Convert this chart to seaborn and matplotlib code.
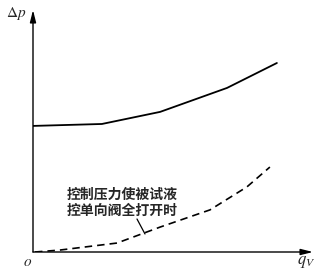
import matplotlib
matplotlib.use("Agg")
import matplotlib.pyplot as plt
import seaborn as sns
import pandas as pd

sns.set_theme(style="white")
plt.rcParams['font.family'] = ['Noto Sans CJK SC', 'DejaVu Sans']
plt.rcParams['mathtext.fontset'] = 'stix'

# data (arbitrary units)
solid_q = [0.0, 2.46, 4.54, 6.93, 8.71]
solid_p = [5.21, 5.29, 5.79, 6.78, 7.81]
dash_q = [0.07, 0.96, 3.0, 4.54, 6.32, 7.64, 8.46]
dash_p = [0.0, 0.08, 0.37, 1.03, 1.74, 2.69, 3.51]
annot_text = "控制压力使被试液\n控单向阀全打开时"

W, H = 321, 274
fig = plt.figure(figsize=(W / 100, H / 100), dpi=100)
ax = fig.add_axes([33 / W, 22 / H, 280 / W, 242 / H])
ax.set_xlim(0, 10)
ax.set_ylim(0, 10)

df1 = pd.DataFrame({"q": solid_q, "p": solid_p})
df2 = pd.DataFrame({"q": dash_q, "p": dash_p})
sns.lineplot(data=df1, x="q", y="p", ax=ax, color="black", lw=1.3, sort=False)
sns.lineplot(data=df2, x="q", y="p", ax=ax, color="black", lw=1.2, sort=False,
             linestyle=(0, (4.5, 3)))

for s in ax.spines.values():
    s.set_visible(False)
ax.set_xticks([])
ax.set_yticks([])
ax.set_xlabel("")
ax.set_ylabel("")

# axes arrows
ax.annotate("", xy=(1.0, 0), xytext=(0, 0), xycoords="axes fraction",
            arrowprops=dict(arrowstyle="-|>,head_length=0.6,head_width=0.15",
                            color="black", lw=1.0, shrinkA=0, shrinkB=0),
            annotation_clip=False)
ax.annotate("", xy=(0, 1.0), xytext=(0, 0), xycoords="axes fraction",
            arrowprops=dict(arrowstyle="-|>,head_length=0.6,head_width=0.15",
                            color="black", lw=1.0, shrinkA=0, shrinkB=0),
            annotation_clip=False)

# labels
fig.text(16 / W, 1 - 14 / H, r"$\Delta p$", fontsize=11, ha="center", va="center")
fig.text(306 / W, 1 - 261 / H, r"$q_V$", fontsize=12, ha="center", va="center")
fig.text(28 / W, 1 - 262 / H, r"$o$", fontsize=11, ha="center", va="center")

# annotation text and leader
fig.text(67 / W, 1 - 203 / H, annot_text, fontsize=10, fontweight="bold",
         ha="left", va="center", linespacing=1.15)
ax.plot([(137 - 33) / 28, (145 - 33) / 28], [(252 - 219) / 24.2, (252 - 234) / 24.2],
        color="black", lw=0.9)

fig.savefig("out.png", dpi=100)
